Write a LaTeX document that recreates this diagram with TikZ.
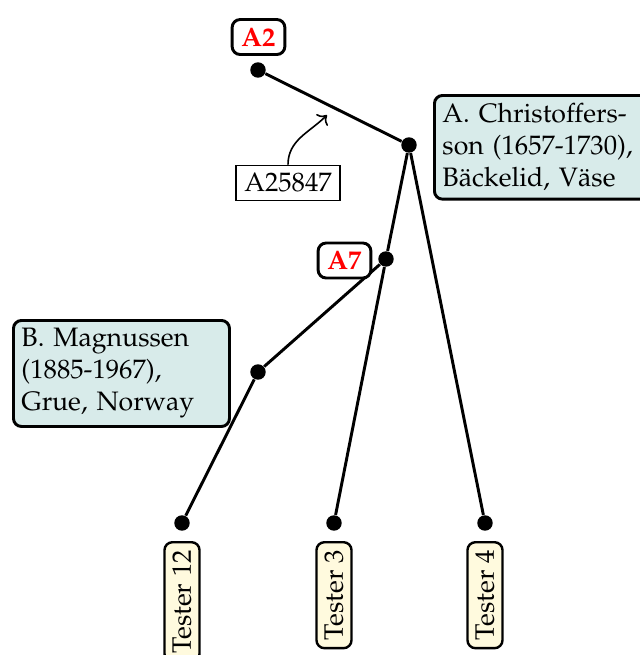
\documentclass[tikz,border=0pt]{standalone}
\usepackage[T1]{fontenc}
\usepackage{mathpazo}
\usetikzlibrary{arrows.meta}
\definecolor{infofill}{RGB}{216,235,234}
\definecolor{testfill}{RGB}{255,250,222}
\begin{document}
\begin{tikzpicture}[x=0.375pt,y=-0.375pt,
  dot/.style={circle,fill=black,inner sep=0pt,minimum size=5.8pt},
  edge/.style={line width=1.1pt},
  info/.style={draw,line width=1.1pt,rounded corners=3pt,fill=infofill,align=left,text width=75pt,inner sep=3pt},
  tester/.style={draw,line width=0.9pt,rounded corners=3pt,fill=testfill,rotate=90,anchor=east,inner sep=3pt},
  tag/.style={draw,line width=1.1pt,rounded corners=3pt,fill=white,text=red,font=\bfseries,inner xsep=3.5pt,inner ysep=3pt},
  idbox/.style={draw,line width=0.6pt,inner sep=3pt,fill=white}]
\useasboundingbox (0,0) rectangle (640,655);
\node[dot] (p2) at (258,70) {};
\node[dot] (pc) at (409,145) {};
\node[dot] (p7) at (386,259) {};
\node[dot] (pm) at (258,372) {};
\node[dot] (t12) at (182,523) {};
\node[dot] (t3) at (334,523) {};
\node[dot] (t4) at (485,523) {};
\draw[edge] (p2) -- (pc);
\draw[edge] (pc) -- (p7);
\draw[edge] (pc) -- (t4);
\draw[edge] (p7) -- (pm);
\draw[edge] (p7) -- (t3);
\draw[edge] (pm) -- (t12);
\node[tag] (a2) at (258.5,37) {A2};
\node[tag] (a7) at (344.5,260.5) {A7};
\node[idbox] (id) at (288,183) {A25847};
\coordinate (tip) at (327,115);
\draw[->,line width=0.6pt] (id.north) to[out=90,in=225] (tip);
\node[info,anchor=north west] (ic) at (433,94) {A. Christoffers-\\son (1657-1730),\\B\"ackelid, V\"ase};
\node[info,anchor=north west] (im) at (12,319) {B. Magnussen\\(1885-1967),\\Grue, Norway};
\node[tester] (l12) at (182,541) {Tester 12};
\node[tester] (l3) at (334,541) {Tester 3};
\node[tester] (l4) at (485,541) {Tester 4};
\end{tikzpicture}
\end{document}
